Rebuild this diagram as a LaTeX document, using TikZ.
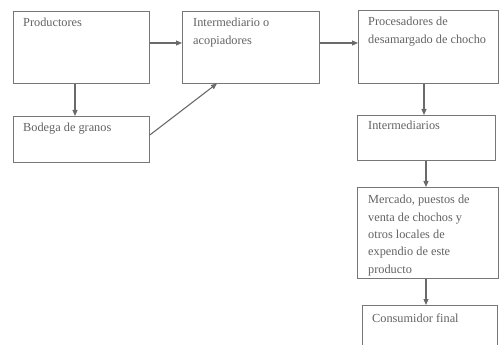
\documentclass[tikz,border=0pt]{standalone}
\usepackage{fontspec}
\setmainfont{Liberation Serif}
\usetikzlibrary{arrows.meta}
\definecolor{boxline}{HTML}{777777}
\definecolor{arrline}{HTML}{6A6A6A}
\definecolor{txt}{HTML}{626262}
\tikzset{
  box/.style={draw=boxline, line width=0.8pt, rectangle, inner sep=0pt, anchor=north west},
  lbl/.style={anchor=north west, inner sep=0pt, text=txt, font=\fontsize{12.3}{17.4}\selectfont, align=left},
  conn/.style={draw=arrline, line width=1.1pt, -{Triangle[length=6pt,width=5pt]}},
}
\begin{document}
\begin{tikzpicture}[x=1pt,y=-1pt]
\useasboundingbox (0,0) rectangle (499,345);
\clip (0,0) rectangle (499,345);
% boxes
\node[box, minimum width=136pt, minimum height=72pt] (prod) at (13,11) {};
\node[box, minimum width=136pt, minimum height=46pt] (bod) at (13,116) {};
\node[box, minimum width=137pt, minimum height=72pt] (inter) at (182,11) {};
\node[box, minimum width=140pt, minimum height=73pt] (proc) at (358,10) {};
\node[box, minimum width=138pt, minimum height=45pt] (inters) at (357,115) {};
\node[box, minimum width=141pt, minimum height=91pt] (merc) at (357,187) {};
\node[box, minimum width=135pt, minimum height=60pt] (cons) at (362,305) {};
% labels
\node[lbl] (tprod) at (23,18) {Productores};
\node[lbl] (tbod) at (23,123) {Bodega de granos};
\node[lbl] (tinter) at (193,18) {Intermediario o\\acopiadores};
\node[lbl] (tproc) at (368,17) {Procesadores de\\desamargado de chocho};
\node[lbl] (tinters) at (368,121) {Intermediarios};
\node[lbl] (tmerc) at (368,195) {Mercado, puestos de\\venta de chochos y\\otros locales de\\expendio de este\\producto};
\node[lbl] (tcons) at (372,314) {Consumidor final};
% connectors
\draw[conn] (prod.east |- 0,43) -- (inter.west |- 0,43);
\draw[conn] (prod.south -| 75,0) -- (bod.north -| 75,0);
\draw[conn] (bod.east |- 0,135) -- (217,83.5);
\draw[conn] (inter.east |- 0,43) -- (proc.west |- 0,43);
\draw[conn] (proc.south -| 424,0) -- (inters.north -| 424,0);
\draw[conn] (inters.south -| 426,0) -- (merc.north -| 426,0);
\draw[conn] (merc.south -| 426,0) -- (cons.north -| 426,0);
\end{tikzpicture}
\end{document}
